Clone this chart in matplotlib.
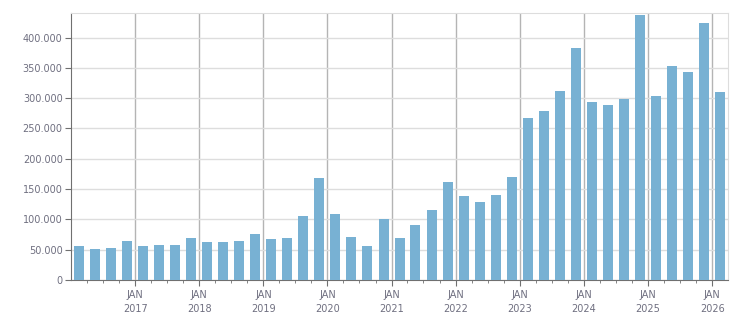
import matplotlib
matplotlib.use("Agg")
import matplotlib.pyplot as plt
import matplotlib.dates as mdates
from matplotlib.ticker import FuncFormatter, MultipleLocator
import datetime as dt

# quarterly values, Q1 2016 .. Q1 2026
quarters = [(y, q) for y in range(2016, 2026) for q in range(1, 5)] + [(2026, 1)]
values = [56000, 51000, 53000, 64000, 56000, 58000, 58000, 69000,
          63000, 63000, 64000, 76000, 68000, 69000, 105000, 168000,
          109000, 71000, 56000, 101000, 69000, 91000, 115000, 162000,
          138000, 129000, 140000, 170000, 267000, 279000, 312000, 382000,
          293000, 288000, 298000, 438000, 303000, 353000, 343000, 424000,
          310000]
year_labels = [str(y) for y in range(2017, 2027)]

text_col = "#6f6f80"
bar_col = "#78b1d3"


def q_start(y, q):
    return dt.date(y, 3 * (q - 1) + 1, 1)


def q_end(y, q):
    return dt.date(y + 1, 1, 1) if q == 4 else dt.date(y, 3 * q + 1, 1)


centers = []
for y, q in quarters:
    a = mdates.date2num(q_start(y, q))
    b = mdates.date2num(q_end(y, q))
    centers.append((a + b) / 2)

fig = plt.figure(figsize=(7.51, 3.13), dpi=100)
ax = fig.add_axes([0.0945, 0.1054, 0.8749, 0.8521])

ax.bar(centers, values, width=57, color=bar_col, zorder=3)

ax.set_xlim(mdates.date2num(dt.date(2016, 1, 1)), mdates.date2num(dt.date(2026, 4, 1)))
ax.set_ylim(0, 440000)

major = [mdates.date2num(dt.date(int(y), 1, 1)) for y in year_labels]
ax.set_xticks(major)
ax.set_xticklabels(["JAN\n" + y for y in year_labels])
minor = []
for y, q in quarters:
    if q != 1:
        minor.append(mdates.date2num(q_start(y, q)))
ax.set_xticks(minor, minor=True)

ax.yaxis.set_major_locator(MultipleLocator(50000))
ax.yaxis.set_major_formatter(FuncFormatter(lambda v, p: f"{int(v):,}".replace(",", ".")))

ax.grid(axis="y", color="#dddddd", linewidth=1, zorder=0)
ax.grid(axis="x", which="major", color="#b4b4b4", linewidth=1, zorder=0)

for s in ["left", "bottom"]:
    ax.spines[s].set_color("#707070")
for s in ["top", "right"]:
    ax.spines[s].set_color("#dddddd")

ax.tick_params(axis="both", which="major", colors="#707070", labelcolor=text_col,
               labelsize=7, length=4)
ax.tick_params(axis="x", which="minor", colors="#707070", length=2)
ax.tick_params(axis="y", pad=2)
ax.tick_params(axis="x", pad=3)
for t in ax.get_xticklabels():
    t.set_linespacing(1.5)

fig.savefig("out.png", dpi=100)
